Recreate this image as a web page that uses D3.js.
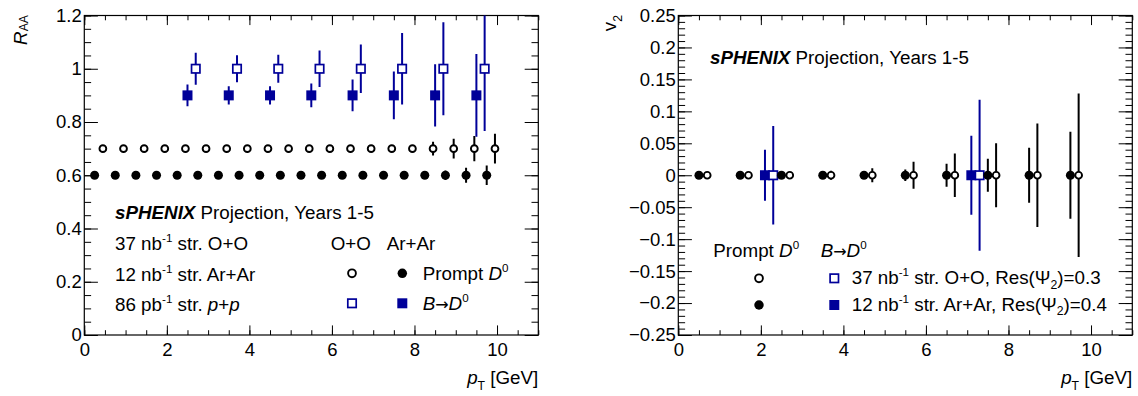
<!DOCTYPE html>
<html><head><meta charset="utf-8">
<script src="https://cdn.jsdelivr.net/npm/d3@7"></script>
<style>
body{margin:0;background:#fff}
svg{display:block}
text{font-family:"Liberation Sans",Arial,Helvetica,sans-serif;fill:#000}
</style>
</head><body>
<svg id="c" width="1138" height="396"></svg>
<script>
// ---------------- DATA ----------------
// Left panel: R_AA
const raaPtPromptOO   = [0.45,0.95,1.45,1.95,2.45,2.95,3.45,3.95,4.45,4.95,5.45,5.95,6.45,6.95,7.45,7.95,8.45,8.95,9.45,9.95];
const raaPromptOO     = [0.7,0.7,0.7,0.7,0.7,0.7,0.7,0.7,0.7,0.7,0.7,0.7,0.7,0.7,0.7,0.7,0.7,0.7,0.7,0.7];
const raaErrPromptOO  = [0.003,0.003,0.003,0.003,0.004,0.004,0.004,0.005,0.005,0.006,0.007,0.008,0.009,0.010,0.012,0.014,0.026,0.037,0.047,0.056];

const raaPtPromptAr   = [0.25,0.75,1.25,1.75,2.25,2.75,3.25,3.75,4.25,4.75,5.25,5.75,6.25,6.75,7.25,7.75,8.25,8.75,9.25,9.75];
const raaPromptAr     = [0.6,0.6,0.6,0.6,0.6,0.6,0.6,0.6,0.6,0.6,0.6,0.6,0.6,0.6,0.6,0.6,0.6,0.6,0.6,0.6];
const raaErrPromptAr  = [0.002,0.002,0.002,0.002,0.002,0.003,0.003,0.003,0.003,0.004,0.004,0.005,0.006,0.007,0.008,0.010,0.012,0.018,0.028,0.037];

const raaPtBOO        = [2.7,3.7,4.7,5.7,6.7,7.7,8.7,9.7];
const raaBOO          = [1.0,1.0,1.0,1.0,1.0,1.0,1.0,1.0];
const raaErrBOO       = [0.060,0.051,0.053,0.069,0.091,0.134,0.175,0.234];

const raaPtBAr        = [2.5,3.5,4.5,5.5,6.5,7.5,8.5,9.5];
const raaBAr          = [0.9,0.9,0.9,0.9,0.9,0.9,0.9,0.9];
const raaErrBAr       = [0.041,0.034,0.034,0.045,0.060,0.090,0.117,0.155];

// Right panel: v2
const v2PtPromptAr    = [0.5,1.5,2.5,3.5,4.5,5.5,6.5,7.5,8.5,9.5];
const v2PromptAr      = [0,0,0,0,0,0,0,0,0,0];
const v2ErrPromptAr   = [0.002,0.002,0.003,0.004,0.006,0.009,0.018,0.026,0.043,0.068];

const v2PtPromptOO    = [0.7,1.7,2.7,3.7,4.7,5.7,6.7,7.7,8.7,9.7];
const v2PromptOO      = [0,0,0,0,0,0,0,0,0,0];
const v2ErrPromptOO   = [0.003,0.004,0.005,0.007,0.011,0.021,0.034,0.050,0.081,0.128];

const v2PtBOO         = [2.3,7.3];
const v2BOO           = [0,0];
const v2ErrBOO        = [0.077,0.118];

const v2PtBAr         = [2.1,7.1];
const v2BAr           = [0,0];
const v2ErrBAr        = [0.040,0.062];

// Axis tick labels
const raaXTicks = [0,2,4,6,8,10];
const raaYTicks = [0,0.2,0.4,0.6,0.8,1,1.2];
const v2XTicks  = [0,2,4,6,8,10];
const v2YTicks  = [-0.25,-0.2,-0.15,-0.1,-0.05,0,0.05,0.1,0.15,0.2,0.25];

// ---------------- DRAW ----------------
const BLUE = "#000099";
const FS = 18.8;     // annotation font size
const TFS = 18.5;    // tick label font size
const svg = d3.select("#c");

function rich(g, x, y, parts, opts={}) {
  const base = opts.size||FS;
  const t = g.append("text").attr("x", x).attr("y", y).style("font-size", base+"px");
  if (opts.anchor) t.attr("text-anchor", opts.anchor);
  if (opts.transform) t.attr("transform", opts.transform);
  let shift = 0;
  parts.forEach(p => {
    const f = p.f || [];
    const s = t.append("tspan").text(p.t);
    let target = 0, size = base;
    if (f.includes("sup")) { target = -0.42*base; size = 0.62*base; }
    if (f.includes("sub")) { target = (p.sub!==undefined?p.sub:0.25)*base; size = 0.65*base; }
    s.attr("dy", target - shift); shift = target;
    s.style("font-size", size+"px");
    if (f.includes("it")) s.style("font-style","italic");
    if (f.includes("bold")) s.style("font-weight","bold");
    if (f.includes("sym")) s.style("font-family","'DejaVu Sans'").style("font-size",(0.85*base)+"px");
  });
  return t;
}

function panel(opts) {
  const g = svg.append("g");
  const x = d3.scaleLinear().domain([0,11]).range([opts.x0, opts.x1]);
  const y = d3.scaleLinear().domain(opts.yDom).range([335, 15.5]);
  const H = 335-15.5, W = opts.x1-opts.x0;
  const xl = 0.03*H, yl = 0.03*W;

  const axG = g.append("g");
  const mk = (axisFn, scale, vals, len, tr, fmt) => {
    const a = axisFn(scale).tickValues(vals).tickSizeInner(-len).tickSizeOuter(0);
    if (fmt) a.tickFormat(fmt).tickPadding(opts.pad); else a.tickFormat("");
    const sel = axG.append("g").attr("transform", tr).call(a);
    sel.attr("font-family", null).attr("font-size", null);
    sel.select(".domain").remove();
    sel.selectAll("line").attr("stroke","#000").attr("stroke-width",1);
    return sel;
  };
  const xMinor = x.ticks(22), yMinor = y.ticks(opts.yMinorN);
  // bottom
  mk(d3.axisBottom, x, xMinor, xl/2, `translate(0,335)`);
  const xb = mk(d3.axisBottom, x, opts.xTicks, xl, `translate(0,335)`, d3.format("~g"));
  xb.selectAll("text").attr("y", 7.5).attr("dy","0.71em").style("font-size",TFS+"px").attr("fill","#000");
  // top
  mk(d3.axisTop, x, xMinor, xl/2, `translate(0,15.5)`);
  mk(d3.axisTop, x, opts.xTicks, xl, `translate(0,15.5)`);
  // left
  mk(d3.axisLeft, y, yMinor, yl/2, `translate(${opts.x0},0)`);
  const yLeft = mk(d3.axisLeft, y, opts.yTicks, yl, `translate(${opts.x0},0)`, d3.format("~g"));
  yLeft.selectAll("text").attr("x", -2.5).style("font-size",TFS+"px").attr("fill","#000");
  // right
  mk(d3.axisRight, y, yMinor, yl/2, `translate(${opts.x1},0)`);
  mk(d3.axisRight, y, opts.yTicks, yl, `translate(${opts.x1},0)`);
  // frame
  g.append("rect").attr("x",opts.x0).attr("y",15.5).attr("width",W).attr("height",H)
    .attr("fill","none").attr("stroke","#000").attr("stroke-width",1.2);

  const clipId = "clip"+opts.id;
  svg.append("clipPath").attr("id",clipId).append("rect")
    .attr("x",opts.x0).attr("y",15.5).attr("width",W).attr("height",H);
  const dg = g.append("g").attr("clip-path",`url(#${clipId})`);
  return {g, x, y, dg};
}

function series(P, pts, vals, errs, kind, color) {
  const d = pts.map((p,i)=>({p, v: vals[i], e: errs[i]}));
  P.dg.append("g").selectAll("line").data(d).join("line")
    .attr("x1",k=>P.x(k.p)).attr("x2",k=>P.x(k.p))
    .attr("y1",k=>P.y(k.v+k.e)).attr("y2",k=>P.y(k.v-k.e))
    .attr("stroke",color).attr("stroke-width",2);
  drawMarkers(P.dg, d.map(k=>[P.x(k.p),P.y(k.v)]), kind, color);
}

function drawMarkers(g, xy, kind, color, sc=1) {
  const s = g.append("g");
  if (kind==="oc") s.selectAll("circle").data(xy).join("circle").attr("cx",k=>k[0]).attr("cy",k=>k[1]).attr("r",3.4*sc).attr("fill","#fff").attr("stroke",color).attr("stroke-width",1.9);
  if (kind==="fc") s.selectAll("circle").data(xy).join("circle").attr("cx",k=>k[0]).attr("cy",k=>k[1]).attr("r",4.5*sc).attr("fill",color);
  if (kind==="os") s.selectAll("rect").data(xy).join("rect").attr("x",k=>k[0]-4.2*sc).attr("y",k=>k[1]-4.2*sc).attr("width",8.4*sc).attr("height",8.4*sc).attr("fill","#fff").attr("stroke",color).attr("stroke-width",1.7);
  if (kind==="fs") s.selectAll("rect").data(xy).join("rect").attr("x",k=>k[0]-5*sc).attr("y",k=>k[1]-5*sc).attr("width",10*sc).attr("height",10*sc).attr("fill",color);
}

const arrowParts = [{t:"B",f:["it"]},{t:"\u2192",f:["sym"]},{t:"D",f:["it"]},{t:"0",f:["sup"]}];
const promptParts = [{t:"Prompt "},{t:"D",f:["it"]},{t:"0",f:["sup"]}];
const sph = [{t:"sPHENIX",f:["bold","it"]},{t:" Projection, Years 1-5"}];
const ptTitle = [{t:"p",f:["it"]},{t:"T",f:["sub"],sub:0.3},{t:" [GeV]"}];

// ===== Left panel =====
const L = panel({id:"L", x0:84.3, x1:538.3, yDom:[0,1.2], xTicks:raaXTicks, yTicks:raaYTicks, yMinorN:24, pad:8});
series(L, raaPtPromptAr, raaPromptAr, raaErrPromptAr, "fc", "#000");
series(L, raaPtPromptOO, raaPromptOO, raaErrPromptOO, "oc", "#000");
series(L, raaPtBAr, raaBAr, raaErrBAr, "fs", BLUE);
series(L, raaPtBOO, raaBOO, raaErrBOO, "os", BLUE);

rich(L.g, 0, 0, [{t:"R",f:["it"]},{t:"AA",f:["sub"],sub:0.08}], {anchor:"end", transform:"translate(26.5,15) rotate(-90)"});
rich(L.g, 538.3, 384, ptTitle, {anchor:"end"});

rich(L.g, 115, 218.5, sph);
rich(L.g, 115, 249.5, [{t:"37 nb"},{t:"-1",f:["sup"]},{t:" str. O+O"}]);
rich(L.g, 115, 280.5, [{t:"12 nb"},{t:"-1",f:["sup"]},{t:" str. Ar+Ar"}]);
rich(L.g, 115, 310.5, [{t:"86 pb"},{t:"-1",f:["sup"]},{t:" str. "},{t:"p",f:["it"]},{t:"+"},{t:"p",f:["it"]}]);
rich(L.g, 330.7, 249.5, [{t:"O+O"}]);
rich(L.g, 386.7, 249.5, [{t:"Ar+Ar"}]);
drawMarkers(L.g, [[352,273.3]], "oc", "#000", 1.15);
drawMarkers(L.g, [[402.3,273.3]], "fc", "#000", 1.05);
drawMarkers(L.g, [[352,303.3]], "os", BLUE);
drawMarkers(L.g, [[402.3,303.3]], "fs", BLUE);
rich(L.g, 422.7, 280, promptParts);
rich(L.g, 422.7, 310, arrowParts);

// ===== Right panel =====
const R = panel({id:"R", x0:678.3, x1:1132.3, yDom:[-0.25,0.25], xTicks:v2XTicks, yTicks:v2YTicks, yMinorN:50, pad:8});
series(R, v2PtBAr, v2BAr, v2ErrBAr, "fs", BLUE);
series(R, v2PtBOO, v2BOO, v2ErrBOO, "os", BLUE);
series(R, v2PtPromptAr, v2PromptAr, v2ErrPromptAr, "fc", "#000");
series(R, v2PtPromptOO, v2PromptOO, v2ErrPromptOO, "oc", "#000");

rich(R.g, 0, 0, [{t:"v"},{t:"2",f:["sub"],sub:0.3}], {anchor:"end", transform:"translate(616.3,15) rotate(-90)"});
rich(R.g, 1132.3, 384, ptTitle, {anchor:"end"});

rich(R.g, 710, 64, sph);
rich(R.g, 713.3, 256.7, promptParts);
rich(R.g, 820.7, 256.7, arrowParts);
drawMarkers(R.g, [[759,278.3]], "oc", "#000", 1.15);
drawMarkers(R.g, [[759,305]], "fc", "#000", 1.05);
drawMarkers(R.g, [[834.3,278.3]], "os", BLUE);
drawMarkers(R.g, [[834.3,305]], "fs", BLUE);
rich(R.g, 851.7, 284, [{t:"37 nb"},{t:"-1",f:["sup"]},{t:" str. O+O, Res(\u03A8"},{t:"2",f:["sub"]},{t:")=0.3"}]);
rich(R.g, 851.7, 310.5, [{t:"12 nb"},{t:"-1",f:["sup"]},{t:" str. Ar+Ar, Res(\u03A8"},{t:"2",f:["sub"]},{t:")=0.4"}]);
</script>
</body></html>
